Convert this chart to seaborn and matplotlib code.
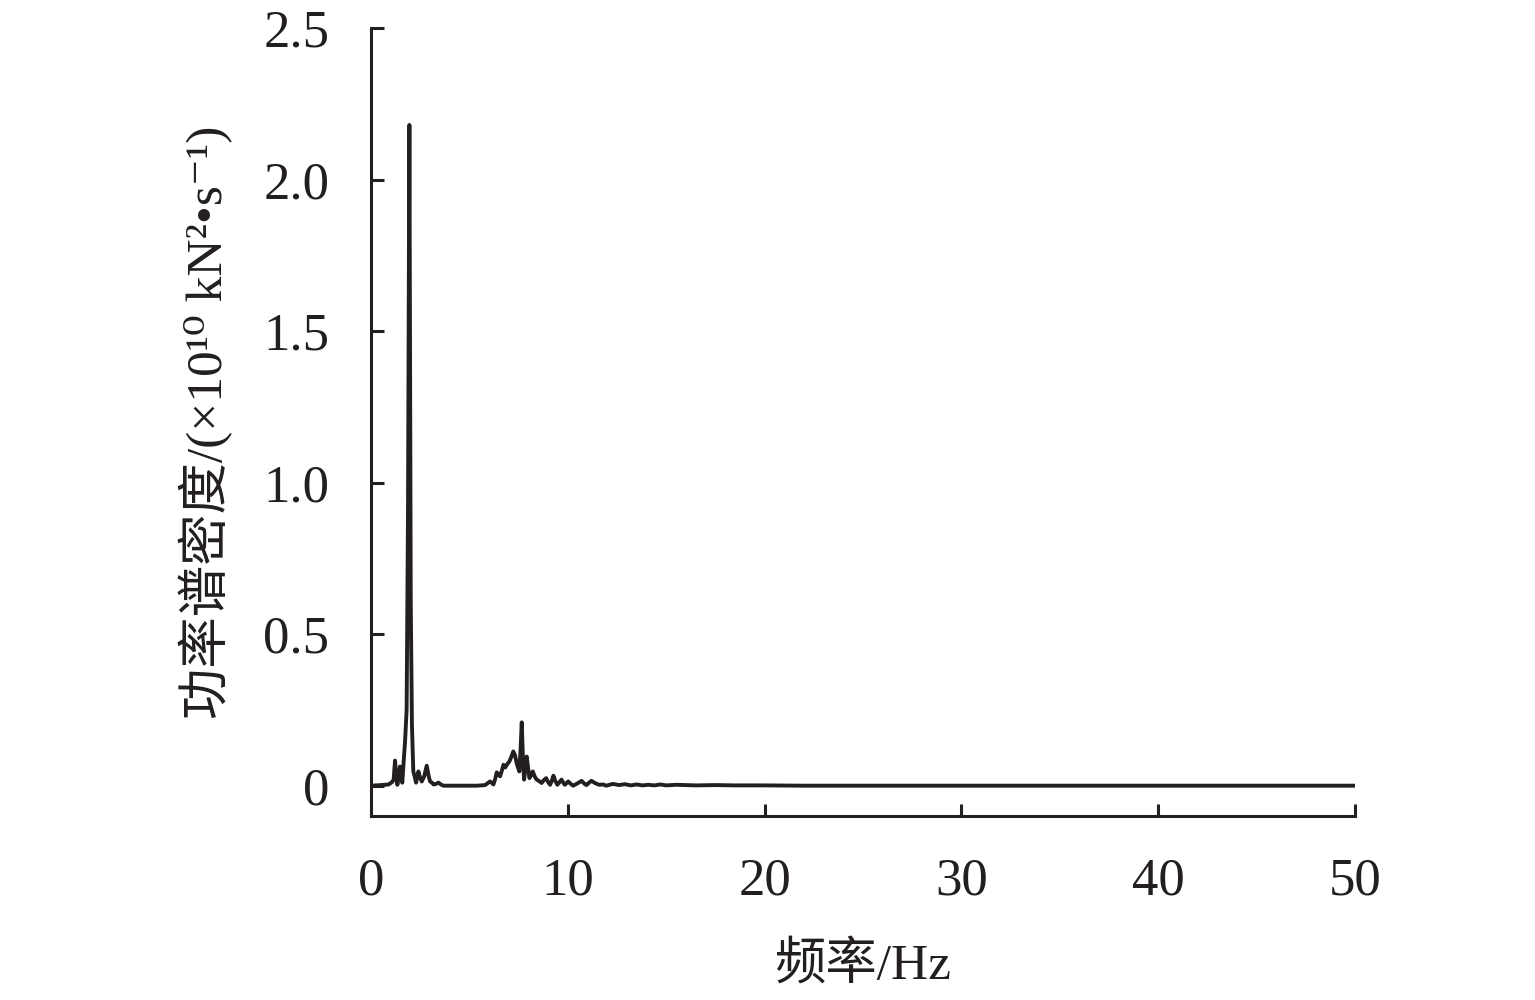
import numpy as np
import pandas as pd
import matplotlib
matplotlib.use("Agg")
import matplotlib.pyplot as plt
import seaborn as sns
from matplotlib.ticker import FuncFormatter

# power spectral density (x1e10 kN^2/s)
freq = [0.0, 0.5, 0.9, 1.07, 1.15, 1.22, 1.3, 1.34, 1.42, 1.47, 1.53, 1.59, 1.66,
        1.73, 1.81, 1.88, 1.95, 2.02, 2.08, 2.15, 2.22, 2.29, 2.35, 2.41, 2.5,
        2.58, 2.7, 2.83, 2.92, 3.0, 3.1, 3.18, 3.3, 3.43, 3.55, 3.68, 4.5,
        5.37, 5.8, 6.05, 6.13, 6.22, 6.3, 6.39, 6.47, 6.56, 6.65, 6.73, 6.82,
        6.9, 6.97, 7.03, 7.13, 7.23, 7.32, 7.4, 7.47, 7.54, 7.6, 7.66, 7.72,
        7.78, 7.85, 7.91, 7.98, 8.05, 8.13, 8.22, 8.32, 8.42, 8.55, 8.67,
        8.78, 8.9, 9.0, 9.1, 9.18, 9.27, 9.37, 9.47, 9.58, 9.68, 9.77, 9.85,
        9.93, 10.02, 10.15, 10.27, 10.5, 10.7, 10.85, 10.95, 11.08, 11.2,
        11.4, 11.6, 11.8, 11.95, 12.3, 12.6, 12.9, 13.2, 13.5, 13.8, 14.1,
        14.4, 14.7, 15.0, 15.5, 16.5, 17.5, 18.5, 20.0, 22.0, 25.0, 30.0,
        35.0, 40.0, 45.0, 50.0]
psd = [0.0, 0.002, 0.004, 0.012, 0.02, 0.083, 0.02, 0.003, 0.03, 0.063, 0.03,
       0.01, 0.08, 0.146, 0.25, 0.9, 2.18, 0.6, 0.2, 0.047, 0.03, 0.01, 0.03,
       0.047, 0.025, 0.014, 0.03, 0.066, 0.035, 0.014, 0.01, 0.004, 0.006, 0.01,
       0.004, 0.0, 0.0, 0.0, 0.002, 0.014, 0.01, 0.004, 0.02, 0.044, 0.038,
       0.031, 0.05, 0.069, 0.06, 0.069, 0.075, 0.08, 0.095, 0.113, 0.1, 0.075,
       0.06, 0.047, 0.12, 0.209, 0.09, 0.02, 0.06, 0.096, 0.06, 0.025, 0.035,
       0.047, 0.03, 0.02, 0.015, 0.009, 0.018, 0.025, 0.012, 0.003, 0.015,
       0.033, 0.015, 0.003, 0.012, 0.02, 0.01, 0.003, 0.008, 0.014, 0.006,
       0.0, 0.008, 0.016, 0.006, 0.002, 0.01, 0.016, 0.008, 0.003, 0.004,
       0.0, 0.006, 0.002, 0.005, 0.001, 0.004, 0.001, 0.003, 0.001, 0.004,
       0.001, 0.003, 0.001, 0.002, 0.001, 0.001, 0.0, 0.0, 0.0, 0.0, 0.0,
       0.0, 0.0]

x_ticks = [0, 10, 20, 30, 40, 50]
y_ticks = [0, 0.5, 1.0, 1.5, 2.0, 2.5]

df = pd.DataFrame({"freq": freq, "psd": psd})

sns.set_theme(style="ticks")
fonts = ["Liberation Serif", "Noto Sans CJK SC", "DejaVu Serif"]
plt.rcParams["font.family"] = fonts
ink = "#231f20"

fig = plt.figure(figsize=(15.35, 10), dpi=100)
ax = fig.add_axes([0.2417, 0.184, 0.641, 0.788])

sns.lineplot(data=df, x="freq", y="psd", color=ink, linewidth=2.8, ax=ax)

ax.set_xlim(0, 50)
ax.set_ylim(-0.1, 2.5)
ax.set_xticks(x_ticks)
ax.set_yticks(y_ticks)
ax.yaxis.set_major_formatter(FuncFormatter(lambda v, p: "0" if v == 0 else f"{v:.1f}"))
ax.tick_params(direction="in", length=9, width=2.2, colors=ink, labelsize=38,
               labelcolor=ink)
ax.tick_params(axis="y", pad=30)
ax.tick_params(axis="x", pad=30)

sns.despine(ax=ax)
for s in ["left", "bottom"]:
    ax.spines[s].set_linewidth(2.2)
    ax.spines[s].set_color(ink)

ax.set_xlabel("频率/Hz", fontsize=37, color=ink, labelpad=26)
ax.set_ylabel("功率谱密度/(×10¹⁰ kN²•s⁻¹)", fontsize=37, color=ink, labelpad=22)

fig.savefig("out.png", dpi=100)
